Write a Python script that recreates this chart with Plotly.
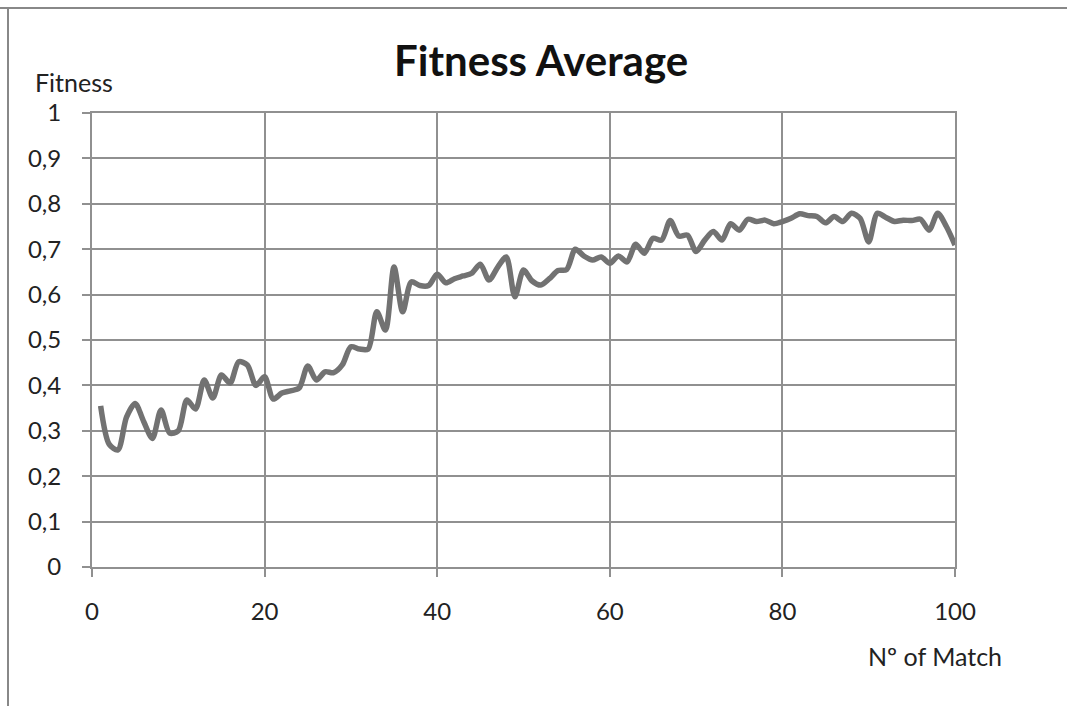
import plotly.graph_objects as go

matches = list(range(1, 101))
fitness = [
    0.355, 0.27, 0.258, 0.33, 0.36, 0.32, 0.283, 0.346, 0.295, 0.30,
    0.368, 0.348, 0.412, 0.372, 0.423, 0.405, 0.452, 0.445, 0.40, 0.419,
    0.37, 0.383, 0.388, 0.394, 0.443, 0.412, 0.43, 0.428, 0.445, 0.485,
    0.48, 0.48, 0.562, 0.522, 0.661, 0.562, 0.628, 0.62, 0.62, 0.645,
    0.626, 0.635, 0.641, 0.647, 0.667, 0.632, 0.66, 0.683, 0.595, 0.654,
    0.63, 0.621, 0.635, 0.653, 0.655, 0.70, 0.685, 0.676, 0.683, 0.669,
    0.685, 0.672, 0.711, 0.691, 0.724, 0.72, 0.763, 0.729, 0.731, 0.695,
    0.72, 0.739, 0.72, 0.756, 0.742, 0.766, 0.761, 0.764, 0.756, 0.761,
    0.768, 0.778, 0.774, 0.772, 0.758, 0.772, 0.761, 0.779, 0.768, 0.716,
    0.779, 0.77, 0.761, 0.764, 0.763, 0.766, 0.742, 0.779, 0.75, 0.709,
]
x_ticks = [0, 20, 40, 60, 80, 100]
y_ticks = [0, 0.1, 0.2, 0.3, 0.4, 0.5, 0.6, 0.7, 0.8, 0.9, 1]
y_ticktext = ["0", "0,1", "0,2", "0,3", "0,4", "0,5", "0,6", "0,7", "0,8", "0,9", "1"]

W, H = 1067, 706
L, R, T, B = 92, 955, 113, 567

def px(x):
    return (x - L) / (R - L)

def py(y):
    return (B - y) / (B - T)

FONT = "Lato"
grid = "#909090"

fig = go.Figure()
fig.add_trace(go.Scatter(
    x=matches, y=fitness, mode="lines",
    line=dict(color="#727272", width=5.5, shape="spline", smoothing=0.8),
    showlegend=False, hoverinfo="skip",
))

fig.update_layout(
    width=W, height=H,
    margin=dict(l=L, r=W - R, t=T, b=H - B),
    paper_bgcolor="white", plot_bgcolor="white",
    font=dict(family=FONT, size=24, color="#222222"),
    xaxis=dict(
        range=[0, 100], tickvals=x_ticks, showgrid=True, gridcolor=grid, gridwidth=2,
        zeroline=False, showline=True, linecolor=grid, linewidth=2, mirror=True,
        ticks="outside", ticklen=8, tickcolor=grid, tickwidth=2,
        ticklabelstandoff=14, tickfont=dict(size=24, family=FONT, color="#222222"),
    ),
    yaxis=dict(
        range=[0, 1], tickvals=y_ticks, ticktext=y_ticktext, showgrid=True,
        gridcolor=grid, gridwidth=2, zeroline=False, showline=True, linecolor=grid,
        linewidth=2, mirror=True, ticks="outside", ticklen=8, tickcolor=grid,
        tickwidth=2, ticklabelstandoff=16, tickfont=dict(size=24, family=FONT, color="#222222"),
    ),
    shapes=[
        dict(type="line", xref="paper", yref="paper", x0=px(0), x1=px(1067),
             y0=py(8), y1=py(8), line=dict(color="#888888", width=2)),
        dict(type="line", xref="paper", yref="paper", x0=px(8), x1=px(8),
             y0=py(8), y1=py(706), line=dict(color="#888888", width=2)),
    ],
    annotations=[
        dict(text="<b>Fitness Average</b>", xref="paper", yref="paper",
             x=px(541), y=py(60), showarrow=False, xanchor="center", yanchor="middle",
             font=dict(size=42, family=FONT, color="#111111")),
        dict(text="Fitness", xref="paper", yref="paper",
             x=px(33), y=py(82), showarrow=False, xanchor="left", yanchor="middle",
             font=dict(size=25, family=FONT, color="#222222")),
        dict(text="Nº of Match", xref="paper", yref="paper",
             x=px(866), y=py(656), showarrow=False, xanchor="left", yanchor="middle",
             font=dict(size=25, family=FONT, color="#222222")),
    ],
)

fig.write_html("out.html")
